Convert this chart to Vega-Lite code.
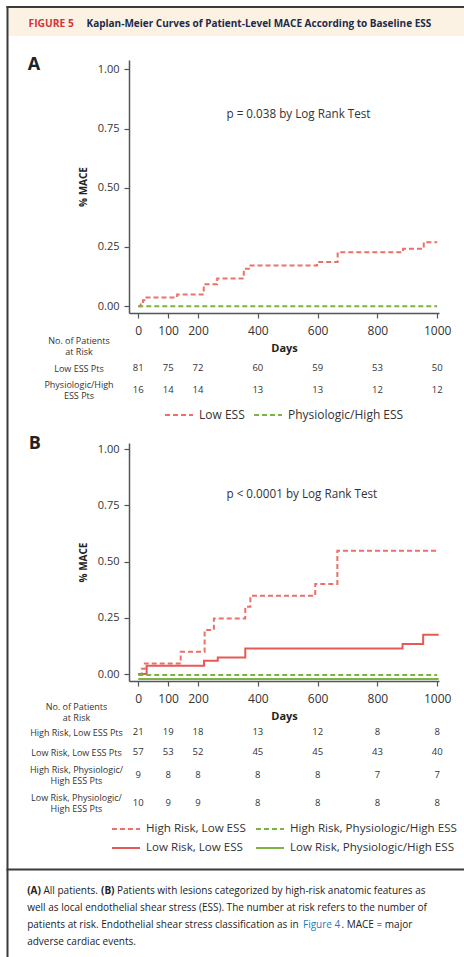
{
  "$schema": "https://vega.github.io/schema/vega-lite/v6.json",
  "padding": {"left": 6, "top": 6, "right": 0, "bottom": 0},
  "spacing": 0,
  "bounds": "flush",
  "resolve": {
    "scale": {"color": "independent", "strokeDash": "independent"},
    "legend": {"color": "independent", "strokeDash": "independent"}
  },
  "config": {
    "view": {"stroke": null},
    "font": "Open Sans",
    "legend": {"layout": {"bottom": {"anchor": "middle"}}}
  },
  "datasets": {
    "curvesA": [
      {"group": "Low ESS", "day": 0, "mace": 0},
      {"group": "Low ESS", "day": 8, "mace": 0.012},
      {"group": "Low ESS", "day": 16, "mace": 0.025},
      {"group": "Low ESS", "day": 24, "mace": 0.037},
      {"group": "Low ESS", "day": 130, "mace": 0.049},
      {"group": "Low ESS", "day": 219, "mace": 0.092},
      {"group": "Low ESS", "day": 264, "mace": 0.117},
      {"group": "Low ESS", "day": 353, "mace": 0.158},
      {"group": "Low ESS", "day": 370, "mace": 0.172},
      {"group": "Low ESS", "day": 598, "mace": 0.186},
      {"group": "Low ESS", "day": 667, "mace": 0.228},
      {"group": "Low ESS", "day": 886, "mace": 0.242},
      {"group": "Low ESS", "day": 955, "mace": 0.27},
      {"group": "Low ESS", "day": 1000, "mace": 0.27},
      {"group": "Physiologic/High ESS", "day": 0, "mace": 0},
      {"group": "Physiologic/High ESS", "day": 1000, "mace": 0}
    ],
    "curvesB": [
      {"group": "High Risk, Low ESS", "day": 0, "mace": 0},
      {"group": "High Risk, Low ESS", "day": 12, "mace": 0.024},
      {"group": "High Risk, Low ESS", "day": 22, "mace": 0.047},
      {"group": "High Risk, Low ESS", "day": 142, "mace": 0.099},
      {"group": "High Risk, Low ESS", "day": 222, "mace": 0.196},
      {"group": "High Risk, Low ESS", "day": 253, "mace": 0.247},
      {"group": "High Risk, Low ESS", "day": 358, "mace": 0.299},
      {"group": "High Risk, Low ESS", "day": 375, "mace": 0.348},
      {"group": "High Risk, Low ESS", "day": 592, "mace": 0.4},
      {"group": "High Risk, Low ESS", "day": 666, "mace": 0.548},
      {"group": "High Risk, Low ESS", "day": 1000, "mace": 0.548},
      {"group": "Low Risk, Low ESS", "day": 0, "mace": 0},
      {"group": "Low Risk, Low ESS", "day": 28, "mace": 0.037},
      {"group": "Low Risk, Low ESS", "day": 220, "mace": 0.059},
      {"group": "Low Risk, Low ESS", "day": 266, "mace": 0.073},
      {"group": "Low Risk, Low ESS", "day": 358, "mace": 0.113},
      {"group": "Low Risk, Low ESS", "day": 884, "mace": 0.133},
      {"group": "Low Risk, Low ESS", "day": 953, "mace": 0.175},
      {"group": "Low Risk, Low ESS", "day": 1005, "mace": 0.175},
      {"group": "High Risk, Physiologic/High ESS", "day": 0, "mace": -0.004},
      {"group": "High Risk, Physiologic/High ESS", "day": 1000, "mace": -0.004},
      {"group": "Low Risk, Physiologic/High ESS", "day": 0, "mace": -0.022},
      {"group": "Low Risk, Physiologic/High ESS", "day": 1005, "mace": -0.022}
    ],
    "riskA": [
      {"row": "Low ESS Pts", "day": 0, "n": 81},
      {"row": "Low ESS Pts", "day": 100, "n": 75},
      {"row": "Low ESS Pts", "day": 200, "n": 72},
      {"row": "Low ESS Pts", "day": 400, "n": 60},
      {"row": "Low ESS Pts", "day": 600, "n": 59},
      {"row": "Low ESS Pts", "day": 800, "n": 53},
      {"row": "Low ESS Pts", "day": 1000, "n": 50},
      {"row": "Physiologic/High ESS Pts", "day": 0, "n": 16},
      {"row": "Physiologic/High ESS Pts", "day": 100, "n": 14},
      {"row": "Physiologic/High ESS Pts", "day": 200, "n": 14},
      {"row": "Physiologic/High ESS Pts", "day": 400, "n": 13},
      {"row": "Physiologic/High ESS Pts", "day": 600, "n": 13},
      {"row": "Physiologic/High ESS Pts", "day": 800, "n": 12},
      {"row": "Physiologic/High ESS Pts", "day": 1000, "n": 12}
    ],
    "riskB": [
      {"row": "High Risk, Low ESS Pts", "day": 0, "n": 21},
      {"row": "High Risk, Low ESS Pts", "day": 100, "n": 19},
      {"row": "High Risk, Low ESS Pts", "day": 200, "n": 18},
      {"row": "High Risk, Low ESS Pts", "day": 400, "n": 13},
      {"row": "High Risk, Low ESS Pts", "day": 600, "n": 12},
      {"row": "High Risk, Low ESS Pts", "day": 800, "n": 8},
      {"row": "High Risk, Low ESS Pts", "day": 1000, "n": 8},
      {"row": "Low Risk, Low ESS Pts", "day": 0, "n": 57},
      {"row": "Low Risk, Low ESS Pts", "day": 100, "n": 53},
      {"row": "Low Risk, Low ESS Pts", "day": 200, "n": 52},
      {"row": "Low Risk, Low ESS Pts", "day": 400, "n": 45},
      {"row": "Low Risk, Low ESS Pts", "day": 600, "n": 45},
      {"row": "Low Risk, Low ESS Pts", "day": 800, "n": 43},
      {"row": "Low Risk, Low ESS Pts", "day": 1000, "n": 40},
      {"row": "High Risk, Physiologic/High ESS Pts", "day": 0, "n": 9},
      {"row": "High Risk, Physiologic/High ESS Pts", "day": 100, "n": 8},
      {"row": "High Risk, Physiologic/High ESS Pts", "day": 200, "n": 8},
      {"row": "High Risk, Physiologic/High ESS Pts", "day": 400, "n": 8},
      {"row": "High Risk, Physiologic/High ESS Pts", "day": 600, "n": 8},
      {"row": "High Risk, Physiologic/High ESS Pts", "day": 800, "n": 7},
      {"row": "High Risk, Physiologic/High ESS Pts", "day": 1000, "n": 7},
      {"row": "Low Risk, Physiologic/High ESS Pts", "day": 0, "n": 10},
      {"row": "Low Risk, Physiologic/High ESS Pts", "day": 100, "n": 9},
      {"row": "Low Risk, Physiologic/High ESS Pts", "day": 200, "n": 9},
      {"row": "Low Risk, Physiologic/High ESS Pts", "day": 400, "n": 8},
      {"row": "Low Risk, Physiologic/High ESS Pts", "day": 600, "n": 8},
      {"row": "Low Risk, Physiologic/High ESS Pts", "day": 800, "n": 8},
      {"row": "Low Risk, Physiologic/High ESS Pts", "day": 1000, "n": 8}
    ]
  },
  "vconcat": [
    {
      "width": 335.5,
      "height": 54,
      "layer": [
        {
          "data": {"values": [{}]},
          "mark": {"type": "rect", "fill": "#FCF2E3"},
          "encoding": {
            "x": {"datum": 8, "type": "quantitative", "scale": {"domain": [128.5, 464], "nice": false, "zero": false}, "axis": null},
            "x2": {"datum": 464},
            "y": {"datum": 8, "type": "quantitative", "scale": {"domain": [60, 6], "nice": false, "zero": false}, "axis": null},
            "y2": {"datum": 36}
          }
        },
        {
          "data": {"values": [{}]},
          "mark": {"type": "rect", "fill": "#3b3b3b"},
          "encoding": {
            "x": {"datum": 6, "type": "quantitative", "scale": {"domain": [128.5, 464], "nice": false, "zero": false}, "axis": null},
            "x2": {"datum": 464},
            "y": {"datum": 6, "type": "quantitative", "scale": {"domain": [60, 6], "nice": false, "zero": false}, "axis": null},
            "y2": {"datum": 8}
          }
        },
        {
          "data": {"values": [{}]},
          "mark": {"type": "rect", "fill": "#3b3b3b"},
          "encoding": {
            "x": {"datum": 6, "type": "quantitative", "scale": {"domain": [128.5, 464], "nice": false, "zero": false}, "axis": null},
            "x2": {"datum": 8},
            "y": {"datum": 6, "type": "quantitative", "scale": {"domain": [60, 6], "nice": false, "zero": false}, "axis": null},
            "y2": {"datum": 957}
          }
        },
        {
          "data": {"values": [{"t": "FIGURE 5"}]},
          "mark": {"type": "text", "align": "left", "baseline": "alphabetic", "fontSize": 10.3, "fontWeight": "bold", "color": "#D6343B"},
          "encoding": {
            "x": {"datum": 28, "type": "quantitative", "scale": {"domain": [128.5, 464], "nice": false, "zero": false}, "axis": null},
            "y": {"datum": 27, "type": "quantitative", "scale": {"domain": [60, 6], "nice": false, "zero": false}, "axis": null},
            "text": {"field": "t"}
          }
        },
        {
          "data": {"values": [{"t": "Kaplan-Meier Curves of Patient-Level MACE According to Baseline ESS"}]},
          "mark": {"type": "text", "align": "left", "baseline": "alphabetic", "fontSize": 10, "fontWeight": "bold", "color": "#1C2B4B"},
          "encoding": {
            "x": {"datum": 86, "type": "quantitative", "scale": {"domain": [128.5, 464], "nice": false, "zero": false}, "axis": null},
            "y": {"datum": 27, "type": "quantitative", "scale": {"domain": [60, 6], "nice": false, "zero": false}, "axis": null},
            "text": {"field": "t"}
          }
        }
      ]
    },
    {
      "width": 310,
      "height": 253,
      "layer": [
        {
          "data": {"name": "curvesA"},
          "mark": {"type": "line", "interpolate": "step-after", "strokeWidth": 2},
          "encoding": {
            "x": {
              "field": "day", "type": "quantitative",
              "scale": {"domain": [-31, 1006], "nice": false, "zero": false},
              "axis": {"values": [0, 100, 200, 400, 600, 800, 1000], "format": "d", "title": "Days", "grid": false, "labelFontSize": 12, "labelColor": "#333", "labelPadding": 7, "labelFlush": false, "labelOverlap": false, "tickSize": 5, "tickColor": "#555", "tickWidth": 1.2, "domainColor": "#555", "domainWidth": 1.5, "titleFontSize": 11, "titleFontWeight": "bold", "titleColor": "#222", "titlePadding": 6}
            },
            "y": {
              "field": "mace", "type": "quantitative",
              "scale": {"domain": [-0.029, 1.04], "nice": false, "zero": false},
              "axis": {"values": [0, 0.25, 0.5, 0.75, 1], "format": ".2f", "title": "% MACE", "grid": false, "labelFontSize": 11, "labelColor": "#333", "labelPadding": 5, "tickSize": 5, "tickColor": "#555", "tickWidth": 1.2, "domainColor": "#555", "domainWidth": 1.5, "titleFontSize": 10, "titleFontWeight": "bold", "titleColor": "#222", "titlePadding": 9}
            },
            "color": {
              "field": "group", "type": "nominal",
              "scale": {"domain": ["Low ESS", "Physiologic/High ESS"], "range": ["#EC7068", "#7CB342"]},
              "legend": {"title": null, "orient": "bottom", "direction": "horizontal", "offset": 55, "padding": 0, "symbolType": "stroke", "symbolSize": 784, "symbolStrokeWidth": 2, "clipHeight": 14, "labelFontSize": 12, "labelColor": "#333", "labelOffset": 5, "columnPadding": 8, "labelLimit": 300}
            },
            "strokeDash": {
              "field": "group", "type": "nominal",
              "scale": {"domain": ["Low ESS", "Physiologic/High ESS"], "range": [[5, 3], [5, 3]]},
              "legend": {"title": null, "orient": "bottom", "direction": "horizontal", "offset": 55, "padding": 0, "symbolType": "stroke", "symbolSize": 784, "symbolStrokeWidth": 2, "clipHeight": 14, "labelFontSize": 12, "labelColor": "#333", "labelOffset": 5, "columnPadding": 8, "labelLimit": 300}
            }
          }
        },
        {
          "data": {"values": [{"t": "p = 0.038 by Log Rank Test"}]},
          "mark": {"type": "text", "align": "left", "baseline": "alphabetic", "fontSize": 11.7, "color": "#333"},
          "encoding": {"x": {"datum": 295}, "y": {"datum": 0.793}, "text": {"field": "t"}}
        },
        {
          "data": {"values": [{"t": "A"}]},
          "mark": {"type": "text", "align": "left", "baseline": "alphabetic", "fontSize": 18, "fontWeight": "bold", "color": "#222"},
          "encoding": {"x": {"datum": -370}, "y": {"datum": 0.996}, "text": {"field": "t"}}
        }
      ]
    },
    {
      "width": 310,
      "height": 88,
      "data": {"name": "riskA"},
      "mark": {"type": "text", "fontSize": 9.5, "color": "#333"},
      "encoding": {
        "x": {"field": "day", "type": "quantitative", "scale": {"domain": [-31, 1006], "nice": false, "zero": false}, "axis": null},
        "y": {
          "field": "row", "type": "nominal",
          "scale": {"type": "point", "domain": ["No. of Patients at Risk", "Low ESS Pts", "Physiologic/High ESS Pts"], "padding": 1, "align": 0.75},
          "axis": {"title": null, "domain": false, "ticks": false, "tickSize": 0, "labelAlign": "center", "labelPadding": 50.5, "labelFontSize": 9, "labelColor": "#333", "labelLineHeight": 11.6, "labelLimit": 200,
            "labelOffset": {"condition": {"test": "datum.value == 'Low ESS Pts'", "value": 0}, "value": -5.8},
            "labelExpr": "datum.label == 'No. of Patients at Risk' ? ['No. of Patients', 'at Risk'] : datum.label == 'Physiologic/High ESS Pts' ? ['Physiologic/High', 'ESS Pts'] : datum.label"}
        },
        "text": {"field": "n", "type": "quantitative"}
      }
    },
    {
      "width": 310,
      "height": 42,
      "data": {"values": []},
      "mark": {"type": "text"},
      "encoding": {}
    },
    {
      "width": 310,
      "height": 238,
      "layer": [
        {
          "data": {"name": "curvesB"},
          "mark": {"type": "line", "interpolate": "step-after", "strokeWidth": 2},
          "encoding": {
            "x": {
              "field": "day", "type": "quantitative",
              "scale": {"domain": [-31, 1006], "nice": false, "zero": false},
              "axis": {"values": [0, 100, 200, 400, 600, 800, 1000], "format": "d", "title": "Days", "grid": false, "labelFontSize": 12, "labelColor": "#333", "labelPadding": 7, "labelFlush": false, "labelOverlap": false, "tickSize": 5, "tickColor": "#555", "tickWidth": 1.2, "domainColor": "#555", "domainWidth": 1.5, "titleFontSize": 11, "titleFontWeight": "bold", "titleColor": "#222", "titlePadding": 6}
            },
            "y": {
              "field": "mace", "type": "quantitative",
              "scale": {"domain": [-0.031, 1.027], "nice": false, "zero": false},
              "axis": {"values": [0, 0.25, 0.5, 0.75, 1], "format": ".2f", "title": "% MACE", "grid": false, "labelFontSize": 11, "labelColor": "#333", "labelPadding": 5, "tickSize": 5, "tickColor": "#555", "tickWidth": 1.2, "domainColor": "#555", "domainWidth": 1.5, "titleFontSize": 10, "titleFontWeight": "bold", "titleColor": "#222", "titlePadding": 9}
            },
            "color": {
              "field": "group", "type": "nominal",
              "scale": {"domain": ["High Risk, Low ESS", "High Risk, Physiologic/High ESS", "Low Risk, Low ESS", "Low Risk, Physiologic/High ESS"], "range": ["#EC7068", "#7CB342", "#E65A55", "#7CB342"]},
              "legend": {"title": null, "orient": "bottom", "direction": "horizontal", "columns": 2, "offset": 101, "padding": 0, "symbolType": "stroke", "symbolSize": 784, "symbolStrokeWidth": 2, "clipHeight": 14, "labelFontSize": 11.6, "labelColor": "#333", "labelOffset": 5, "columnPadding": 9, "rowPadding": 5, "labelLimit": 300}
            },
            "strokeDash": {
              "field": "group", "type": "nominal",
              "scale": {"domain": ["High Risk, Low ESS", "High Risk, Physiologic/High ESS", "Low Risk, Low ESS", "Low Risk, Physiologic/High ESS"], "range": [[5, 3], [5, 3], [1, 0], [1, 0]]},
              "legend": {"title": null, "orient": "bottom", "direction": "horizontal", "columns": 2, "offset": 101, "padding": 0, "symbolType": "stroke", "symbolSize": 784, "symbolStrokeWidth": 2, "clipHeight": 14, "labelFontSize": 11.6, "labelColor": "#333", "labelOffset": 5, "columnPadding": 9, "rowPadding": 5, "labelLimit": 300}
            }
          }
        },
        {
          "data": {"values": [{"t": "p < 0.0001 by Log Rank Test"}]},
          "mark": {"type": "text", "align": "left", "baseline": "alphabetic", "fontSize": 11.7, "color": "#333"},
          "encoding": {"x": {"datum": 295}, "y": {"datum": 0.781}, "text": {"field": "t"}}
        },
        {
          "data": {"values": [{"t": "B"}]},
          "mark": {"type": "text", "align": "left", "baseline": "alphabetic", "fontSize": 18, "fontWeight": "bold", "color": "#222"},
          "encoding": {"x": {"datum": -366}, "y": {"datum": 0.999}, "text": {"field": "t"}}
        }
      ]
    },
    {
      "width": 310,
      "height": 80,
      "data": {"name": "riskB"},
      "transform": [{"filter": {"field": "row", "oneOf": ["High Risk, Low ESS Pts", "Low Risk, Low ESS Pts"]}}],
      "mark": {"type": "text", "fontSize": 9.5, "color": "#333"},
      "encoding": {
        "x": {"field": "day", "type": "quantitative", "scale": {"domain": [-31, 1006], "nice": false, "zero": false}, "axis": null},
        "y": {
          "field": "row", "type": "nominal",
          "scale": {"type": "point", "domain": ["No. of Patients at Risk", "High Risk, Low ESS Pts", "Low Risk, Low ESS Pts"], "padding": 1, "align": 0.775},
          "axis": {"title": null, "domain": false, "ticks": false, "tickSize": 0, "labelAlign": "center", "labelPadding": 53, "labelFontSize": 9, "labelColor": "#333", "labelLineHeight": 11.6, "labelLimit": 200,
            "labelOffset": {"condition": {"test": "datum.value == 'No. of Patients at Risk'", "value": -5.8}, "value": 0},
            "labelExpr": "datum.label == 'No. of Patients at Risk' ? ['No. of Patients', 'at Risk'] : datum.label"}
        },
        "text": {"field": "n", "type": "quantitative"}
      }
    },
    {
      "width": 310,
      "height": 84,
      "data": {"name": "riskB"},
      "transform": [{"filter": {"field": "row", "oneOf": ["High Risk, Physiologic/High ESS Pts", "Low Risk, Physiologic/High ESS Pts"]}}],
      "mark": {"type": "text", "fontSize": 9.5, "color": "#333"},
      "encoding": {
        "x": {"field": "day", "type": "quantitative", "scale": {"domain": [-31, 1006], "nice": false, "zero": false}, "axis": null},
        "y": {
          "field": "row", "type": "nominal",
          "scale": {"type": "point", "domain": ["High Risk, Physiologic/High ESS Pts", "Low Risk, Physiologic/High ESS Pts"], "padding": 1, "align": 0.25},
          "axis": {"title": null, "domain": false, "ticks": false, "tickSize": 0, "labelAlign": "center", "labelPadding": 53, "labelFontSize": 9, "labelColor": "#333", "labelLineHeight": 11.6, "labelLimit": 200, "labelOffset": -5.8,
            "labelExpr": "datum.label == 'High Risk, Physiologic/High ESS Pts' ? ['High Risk, Physiologic/', 'High ESS Pts'] : ['Low Risk, Physiologic/', 'High ESS Pts']"}
        },
        "text": {"field": "n", "type": "quantitative"}
      }
    },
    {
      "width": 335.5,
      "height": 112,
      "layer": [
        {
          "data": {"values": [{}]},
          "mark": {"type": "rect", "fill": "#3b3b3b"},
          "encoding": {
            "x": {"datum": 6, "type": "quantitative", "scale": {"domain": [128.5, 464], "nice": false, "zero": false}, "axis": null},
            "x2": {"datum": 464},
            "y": {"datum": 868.5, "type": "quantitative", "scale": {"domain": [957, 845], "nice": false, "zero": false}, "axis": null},
            "y2": {"datum": 870.5}
          }
        },
        {
          "data": {"values": [{"t": "(A)"}]},
          "mark": {"type": "text", "align": "left", "baseline": "alphabetic", "fontSize": 10, "fontWeight": "bold", "color": "#222"},
          "encoding": {"x": {"datum": 26.7}, "y": {"datum": 893.5}, "text": {"field": "t"}}
        },
        {
          "data": {"values": [{"t": "All patients."}]},
          "mark": {"type": "text", "align": "left", "baseline": "alphabetic", "fontSize": 10, "color": "#222"},
          "encoding": {"x": {"datum": 43}, "y": {"datum": 893.5}, "text": {"field": "t"}}
        },
        {
          "data": {"values": [{"t": "(B)"}]},
          "mark": {"type": "text", "align": "left", "baseline": "alphabetic", "fontSize": 10, "fontWeight": "bold", "color": "#222"},
          "encoding": {"x": {"datum": 100.5}, "y": {"datum": 893.5}, "text": {"field": "t"}}
        },
        {
          "data": {"values": [{"t": "Patients with lesions categorized by high-risk anatomic features as"}]},
          "mark": {"type": "text", "align": "left", "baseline": "alphabetic", "fontSize": 10, "color": "#222"},
          "encoding": {"x": {"datum": 116.5}, "y": {"datum": 893.5}, "text": {"field": "t"}}
        },
        {
          "data": {"values": [{"t": "well as local endothelial shear stress (ESS). The number at risk refers to the number of"}]},
          "mark": {"type": "text", "align": "left", "baseline": "alphabetic", "fontSize": 10, "color": "#222"},
          "encoding": {"x": {"datum": 26.7}, "y": {"datum": 910.7}, "text": {"field": "t"}}
        },
        {
          "data": {"values": [{"t": "patients at risk. Endothelial shear stress classification as in"}]},
          "mark": {"type": "text", "align": "left", "baseline": "alphabetic", "fontSize": 10, "color": "#222"},
          "encoding": {"x": {"datum": 26.7}, "y": {"datum": 927.9}, "text": {"field": "t"}}
        },
        {
          "data": {"values": [{"t": "Figure 4"}]},
          "mark": {"type": "text", "align": "left", "baseline": "alphabetic", "fontSize": 10, "color": "#1F7BB6"},
          "encoding": {"x": {"datum": 302.5}, "y": {"datum": 927.9}, "text": {"field": "t"}}
        },
        {
          "data": {"values": [{"t": ". MACE = major"}]},
          "mark": {"type": "text", "align": "left", "baseline": "alphabetic", "fontSize": 10, "color": "#222"},
          "encoding": {"x": {"datum": 341}, "y": {"datum": 927.9}, "text": {"field": "t"}}
        },
        {
          "data": {"values": [{"t": "adverse cardiac events."}]},
          "mark": {"type": "text", "align": "left", "baseline": "alphabetic", "fontSize": 10, "color": "#222"},
          "encoding": {"x": {"datum": 26.7}, "y": {"datum": 945.1}, "text": {"field": "t"}}
        }
      ]
    }
  ]
}
